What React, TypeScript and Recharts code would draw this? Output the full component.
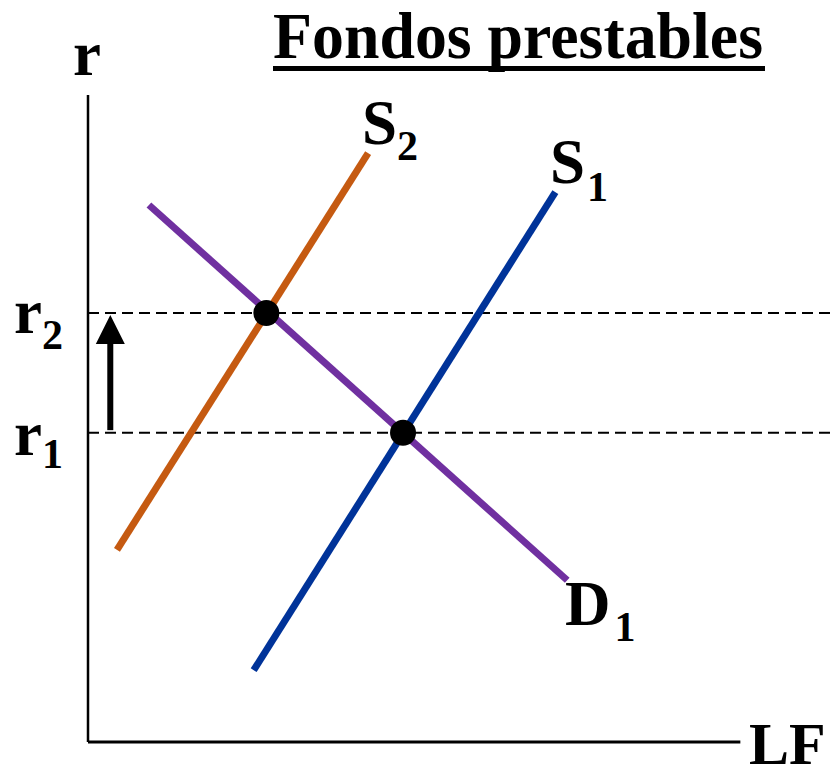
import React from "react";
import {
  ComposedChart,
  Line,
  Scatter,
  XAxis,
  YAxis,
  ReferenceLine,
} from "recharts";

// curves in chart units (LF on x, r on y)
const s2Points = [
  { lf: 0.39, r: 2.97 },
  { lf: 3.77, r: 9.1 },
];
const s1Points = [
  { lf: 2.23, r: 1.11 },
  { lf: 6.29, r: 8.5 },
];
const d1Points = [
  { lf: 0.82, r: 8.3 },
  { lf: 6.45, r: 2.5 },
];
const equilibria = [
  { lf: 2.4, r: 6.63 },
  { lf: 4.24, r: 4.78 },
];
const rates = [6.63, 4.78];
const shiftArrow = { lf: 0.3, from: 4.82, to: 6.6 };
const xAxisEnd = 8.78;
const yAxisEnd = 10;

const W = 831;
const H = 768;
const FONT = "'Liberation Serif', 'Times New Roman', serif";

const ArrowShape = (props: any) => {
  const { x1, y1, x2, y2 } = props;
  const head = 29;
  const half = 14.5;
  return (
    <g>
      <line x1={x1} y1={y1} x2={x2} y2={y2 + head - 2} stroke="#000" strokeWidth={6} />
      <polygon
        points={`${x2},${y2} ${x2 - half},${y2 + head} ${x2 + half},${y2 + head}`}
        fill="#000"
      />
    </g>
  );
};

const Sub = ({
  x,
  y,
  main,
  sub,
  dy,
  dx = 0,
}: {
  x: number;
  y: number;
  main: string;
  sub: string;
  dy: number;
  dx?: number;
}) => (
  <text x={x} y={y} fontFamily={FONT} fontWeight="bold" fontSize={63} fill="#000">
    {main}
    <tspan fontSize={42} dy={dy} dx={dx}>
      {sub}
    </tspan>
  </text>
);

export default function App() {
  return (
    <div style={{ position: "absolute", left: 0, top: 0, width: W, height: H, background: "#fff" }}>
      <ComposedChart
        width={W}
        height={H}
        margin={{ top: 95, right: 0, bottom: 26, left: 88 }}
      >
        <XAxis type="number" dataKey="lf" domain={[0, 10]} hide />
        <YAxis type="number" dataKey="r" domain={[0, 10]} hide />
        <ReferenceLine
          segment={[
            { x: 0, y: 0 },
            { x: 0, y: yAxisEnd },
          ]}
          stroke="#000"
          strokeWidth={2.5}
        />
        <ReferenceLine
          segment={[
            { x: 0, y: 0 },
            { x: xAxisEnd, y: 0 },
          ]}
          stroke="#000"
          strokeWidth={3}
        />
        {rates.map((v) => (
          <ReferenceLine
            key={v}
            y={v}
            stroke="#000"
            strokeWidth={2}
            strokeDasharray="11 6"
          />
        ))}
        <ReferenceLine
          segment={[
            { x: shiftArrow.lf, y: shiftArrow.from },
            { x: shiftArrow.lf, y: shiftArrow.to },
          ]}
          shape={ArrowShape}
        />
        <Line
          data={s2Points}
          dataKey="r"
          stroke="#C55A11"
          strokeWidth={7}
          dot={false}
          isAnimationActive={false}
        />
        <Line
          data={s1Points}
          dataKey="r"
          stroke="#003399"
          strokeWidth={7}
          dot={false}
          isAnimationActive={false}
        />
        <Line
          data={d1Points}
          dataKey="r"
          stroke="#7030A0"
          strokeWidth={7}
          dot={false}
          isAnimationActive={false}
        />
        <Scatter
          data={equilibria}
          fill="#000"
          isAnimationActive={false}
          shape={(p: any) => <circle cx={p.cx} cy={p.cy} r={13} fill="#000" />}
        />
      </ComposedChart>
      <svg
        width={W}
        height={H}
        style={{ position: "absolute", left: 0, top: 0, pointerEvents: "none" }}
      >
        <text
          x={273}
          y={58}
          fontFamily={FONT}
          fontWeight="bold"
          fontSize={66}
          fill="#000"
          textLength={490}
          lengthAdjust="spacingAndGlyphs"
        >
          Fondos prestables
        </text>
        <rect x={273} y={66} width={492} height={5} fill="#000" />
        <text x={73} y={75} fontFamily={FONT} fontWeight="bold" fontSize={63} fill="#000">
          r
        </text>
        <Sub x={362} y={144} main="S" sub="2" dy={16} />
        <Sub x={550} y={183} main="S" sub="1" dy={18} dx={2} />
        <Sub x={565} y={625} main="D" sub="1" dy={16} dx={4} />
        <Sub x={14} y={333} main="r" sub="2" dy={16} />
        <Sub x={14} y={455} main="r" sub="1" dy={13} />
        <text x={749} y={764} fontFamily={FONT} fontWeight="bold" fontSize={60} fill="#000">
          LF
        </text>
      </svg>
    </div>
  );
}
